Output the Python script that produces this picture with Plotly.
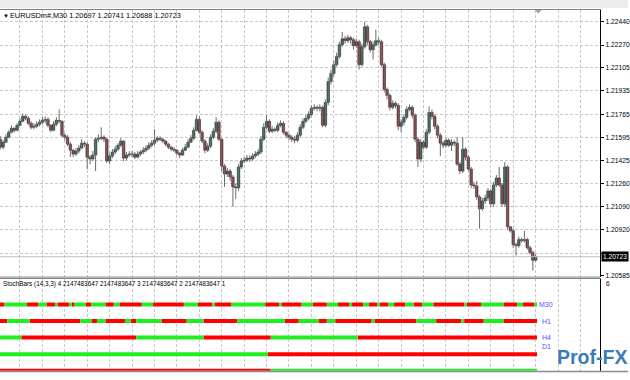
import plotly.graph_objects as go

# ---------------- data ----------------
first_open = 1.21582
closes = [
    1.21524, 1.21560, 1.21597, 1.21633, 1.21662, 1.21647, 1.21684, 1.21713, 1.21749, 1.21735,
    1.21698, 1.21669, 1.21677, 1.21691, 1.21706, 1.21720, 1.21727, 1.21684, 1.21647, 1.21691,
    1.21720, 1.21713, 1.21611, 1.21597, 1.21546, 1.21502, 1.21473, 1.21495, 1.21517, 1.21553,
    1.21546, 1.21451, 1.21437, 1.21466, 1.21582, 1.21589, 1.21597, 1.21582, 1.21422, 1.21459,
    1.21488, 1.21509, 1.21538, 1.21568, 1.21444, 1.21466, 1.21473, 1.21473, 1.21451, 1.21473,
    1.21488, 1.21502, 1.21517, 1.21538, 1.21553, 1.21575, 1.21589, 1.21582, 1.21568, 1.21546,
    1.21524, 1.21509, 1.21502, 1.21480, 1.21466, 1.21502, 1.21524, 1.21560, 1.21589, 1.21647,
    1.21727, 1.21633, 1.21568, 1.21502, 1.21531, 1.21597, 1.21640, 1.21706, 1.21582, 1.21386,
    1.21328, 1.21349, 1.21306, 1.21233, 1.21226, 1.21379, 1.21422, 1.21429, 1.21444, 1.21437,
    1.21459, 1.21473, 1.21488, 1.21582, 1.21669, 1.21713, 1.21640, 1.21655, 1.21647, 1.21684,
    1.21698, 1.21633, 1.21611, 1.21597, 1.21582, 1.21575, 1.21611, 1.21669, 1.21713, 1.21735,
    1.21764, 1.21808, 1.21815, 1.21808, 1.21815, 1.21684, 1.21851, 1.22004, 1.22062, 1.22127,
    1.22186, 1.22273, 1.22316, 1.22302, 1.22324, 1.22309, 1.22266, 1.22295, 1.22127, 1.22258,
    1.22404, 1.22295, 1.22236, 1.22273, 1.22302, 1.22295, 1.22127, 1.21946, 1.21902, 1.21815,
    1.21844, 1.21829, 1.21677, 1.21706, 1.21742, 1.21800, 1.21815, 1.21757, 1.21582, 1.21437,
    1.21560, 1.21524, 1.21633, 1.21778, 1.21749, 1.21677, 1.21611, 1.21553, 1.21538, 1.21575,
    1.21538, 1.21560, 1.21553, 1.21400, 1.21349, 1.21509, 1.21451, 1.21364, 1.21248, 1.21240,
    1.21160, 1.21073, 1.21131, 1.21153, 1.21204, 1.21110, 1.21248, 1.21299, 1.21248, 1.21110,
    1.21379, 1.20942, 1.20913, 1.20811, 1.20804, 1.20848, 1.20841, 1.20848, 1.20789, 1.20753,
    1.20697, 1.20723,
]
highs = [
    1.21604, 1.21575, 1.21618, 1.21647, 1.21684, 1.21669, 1.21698, 1.21735, 1.21771, 1.21764,
    1.21749, 1.21713, 1.21698, 1.21713, 1.21727, 1.21742, 1.21749, 1.21742, 1.21691, 1.21713,
    1.21742, 1.21800, 1.21720, 1.21626, 1.21611, 1.21560, 1.21509, 1.21517, 1.21538, 1.21582,
    1.21568, 1.21560, 1.21466, 1.21495, 1.21597, 1.21618, 1.21669, 1.21611, 1.21589, 1.21480,
    1.21509, 1.21531, 1.21553, 1.21589, 1.21575, 1.21488, 1.21495, 1.21495, 1.21488, 1.21495,
    1.21502, 1.21524, 1.21538, 1.21560, 1.21575, 1.21655, 1.21604, 1.21604, 1.21589, 1.21575,
    1.21553, 1.21531, 1.21524, 1.21509, 1.21488, 1.21517, 1.21546, 1.21582, 1.21611, 1.21669,
    1.21757, 1.21749, 1.21647, 1.21582, 1.21553, 1.21618, 1.21662, 1.21742, 1.21720, 1.21589,
    1.21400, 1.21371, 1.21364, 1.21320, 1.21255, 1.21400, 1.21444, 1.21451, 1.21466, 1.21466,
    1.21480, 1.21495, 1.21509, 1.21604, 1.21698, 1.21757, 1.21727, 1.21677, 1.21669, 1.21706,
    1.21720, 1.21713, 1.21640, 1.21626, 1.21611, 1.21604, 1.21633, 1.21691, 1.21735, 1.21757,
    1.21786, 1.21829, 1.21837, 1.21829, 1.21837, 1.21829, 1.21873, 1.22033, 1.22091, 1.22156,
    1.22215, 1.22295, 1.22367, 1.22338, 1.22345, 1.22338, 1.22324, 1.22316, 1.22309, 1.22280,
    1.22440, 1.22418, 1.22309, 1.22295, 1.22382, 1.22324, 1.22309, 1.22142, 1.21960, 1.21917,
    1.21866, 1.21858, 1.21844, 1.21727, 1.21764, 1.21822, 1.21837, 1.21829, 1.21771, 1.21597,
    1.21582, 1.21575, 1.21655, 1.21822, 1.21800, 1.21764, 1.21691, 1.21626, 1.21568, 1.21589,
    1.21589, 1.21582, 1.21575, 1.21597, 1.21415, 1.21597, 1.21524, 1.21466, 1.21379, 1.21270,
    1.21277, 1.21175, 1.21153, 1.21175, 1.21226, 1.21219, 1.21270, 1.21320, 1.21379, 1.21262,
    1.21415, 1.21393, 1.20942, 1.20928, 1.20826, 1.20870, 1.20862, 1.20913, 1.20862, 1.20804,
    1.20768, 1.20741,
]
lows = [
    1.21509, 1.21509, 1.21553, 1.21589, 1.21626, 1.21633, 1.21640, 1.21677, 1.21706, 1.21720,
    1.21684, 1.21655, 1.21655, 1.21662, 1.21677, 1.21691, 1.21698, 1.21669, 1.21633, 1.21640,
    1.21677, 1.21698, 1.21597, 1.21575, 1.21531, 1.21451, 1.21451, 1.21459, 1.21480, 1.21509,
    1.21524, 1.21364, 1.21400, 1.21422, 1.21349, 1.21560, 1.21575, 1.21560, 1.21408, 1.21400,
    1.21444, 1.21473, 1.21495, 1.21524, 1.21422, 1.21429, 1.21451, 1.21451, 1.21437, 1.21444,
    1.21459, 1.21473, 1.21488, 1.21502, 1.21524, 1.21538, 1.21560, 1.21568, 1.21553, 1.21531,
    1.21509, 1.21495, 1.21488, 1.21466, 1.21444, 1.21459, 1.21495, 1.21517, 1.21553, 1.21575,
    1.21640, 1.21618, 1.21553, 1.21480, 1.21488, 1.21517, 1.21582, 1.21626, 1.21568, 1.21349,
    1.21233, 1.21306, 1.21277, 1.21088, 1.21146, 1.21204, 1.21364, 1.21408, 1.21415, 1.21415,
    1.21422, 1.21444, 1.21459, 1.21473, 1.21568, 1.21655, 1.21626, 1.21626, 1.21633, 1.21633,
    1.21669, 1.21618, 1.21589, 1.21575, 1.21560, 1.21553, 1.21560, 1.21597, 1.21655, 1.21698,
    1.21720, 1.21749, 1.21793, 1.21786, 1.21786, 1.21669, 1.21669, 1.21829, 1.21982, 1.22040,
    1.22113, 1.22171, 1.22258, 1.22280, 1.22287, 1.22280, 1.22236, 1.22251, 1.22091, 1.22113,
    1.22244, 1.22273, 1.22215, 1.22164, 1.22258, 1.22273, 1.22113, 1.21924, 1.21873, 1.21793,
    1.21800, 1.21808, 1.21647, 1.21633, 1.21684, 1.21727, 1.21786, 1.21735, 1.21560, 1.21379,
    1.21415, 1.21509, 1.21509, 1.21618, 1.21727, 1.21655, 1.21589, 1.21459, 1.21517, 1.21524,
    1.21524, 1.21495, 1.21531, 1.21386, 1.21328, 1.21335, 1.21429, 1.21349, 1.21226, 1.21219,
    1.21139, 1.20928, 1.21059, 1.21110, 1.21131, 1.21088, 1.21088, 1.21233, 1.21233, 1.21088,
    1.21088, 1.20921, 1.20899, 1.20789, 1.20731, 1.20789, 1.20826, 1.20826, 1.20775, 1.20739,
    1.20622, 1.20688,
]

price_ticks = [1.22440, 1.22270, 1.22105, 1.21935, 1.21765, 1.21595, 1.21425,
               1.21260, 1.21090, 1.20920, 1.20750, 1.20585]
price_labels = ["1.22440", "1.22270", "1.22105", "1.21935", "1.21765", "1.21595", "1.21425",
                "1.21260", "1.21090", "1.20920", "", "1.20585"]
bid_price = 1.20723
bid_label = "1.20723"
chart_title = "EURUSDm#,M30 1.20697 1.20741 1.20688 1.20723"
ind_title = "StochBars (14,3,3) 4 2147483647 2147483647 3 2147483647 2 2147483647 1"
ind_axis_label = "6"
watermark = "Prof-FX"

# StochBars rows: timeframe name, level, colour-change edges (bar units), colours
tf_names = ["M30", "H1", "H4", "D1", ""]
tf_levels = [4, 3, 2, 1, 0]
m30_edges = [-0.5, 1.5, 9.5, 13.5, 16.5, 19.5, 20.5, 24.5, 25.5, 26.5, 30.5, 32.5, 37.5, 40.5,
             42.5, 50.5, 54.5, 65.5, 70.5, 75.5, 76.5, 82.5, 94.5, 99.5, 100.5, 107.5, 111.5,
             116.5, 120.5, 124.5, 125.5, 129.5, 131.5, 134.5, 135.5, 138.5, 140.5, 144.5, 147.5,
             150.5, 154.5, 165.5, 166.5, 171.5, 179.5, 184.5, 186.5, 190.5, 191.5]
m30_colors = ["R", "G"] * 24
h1_edges = [-0.5, 2.5, 10.5, 28.5, 32.5, 34.5, 37.5, 44.5, 46.5, 48.5, 57.5, 66.5, 72.5, 84.5,
            101.5, 106.5, 113.5, 116.5, 119.5, 132.5, 133.5, 148.5, 155.5, 164.5, 165.5,
            172.5, 179.5, 191.5]
h1_colors = ["R", "G"] * 13 + ["R"]
h4_edges = [-0.5, 7.5, 48.5, 72.5, 96.5, 127.5, 191.5]
h4_colors = ["G", "R", "G", "R", "G", "R"]
d1_edges = [-0.5, 95.5, 191.5]
d1_colors = ["G", "R"]
w1_edges = [-0.5, 96.5, 191.5]
w1_colors = ["R", "G"]

# ---------------- styles ----------------
W, H = 630, 380
BULL = "#27705f"
BEAR = "#a03232"
WICK = "#6a6a6a"
GRID = "#c8c8c8"
CMAP = {"R": "#ff0000", "G": "#1fee1f"}
LABEL_BLUE = "#4f4fff"
FONT = "Liberation Sans, Arial, DejaVu Sans"


def py(p):
    return 1 - p / H


def px(p):
    return p / W


opens = [first_open] + closes[:-1]
n = len(closes)
bars = list(range(n))

fig = go.Figure()

# wicks
wx, wy = [], []
for i in bars:
    wx += [i, i, None]
    wy += [highs[i], lows[i], None]
fig.add_trace(go.Scatter(x=wx, y=wy, mode="lines", line=dict(color=WICK, width=1),
                         hoverinfo="skip", showlegend=False, xaxis="x", yaxis="y"))

# bodies
for bull, col in ((True, BULL), (False, BEAR)):
    bx, bh, bb = [], [], []
    for i in bars:
        o, c = opens[i], closes[i]
        if (c >= o) == bull:
            bx.append(i)
            bh.append(max(abs(c - o), 0.00002))
            bb.append(min(o, c))
    fig.add_trace(go.Bar(x=bx, y=bh, base=bb, width=0.9, marker=dict(color=col,
                         line=dict(color="#1a1a1a", width=0.5)),
                         hoverinfo="skip", showlegend=False, xaxis="x", yaxis="y"))

# indicator rows
rows = [(m30_edges, m30_colors), (h1_edges, h1_colors), (h4_edges, h4_colors),
        (d1_edges, d1_colors), (w1_edges, w1_colors)]
for (edges, cols), lvl in zip(rows, tf_levels):
    for key in ("R", "G"):
        xs, ys = [], []
        for k, c in enumerate(cols):
            if c == key:
                xs += [edges[k], edges[k + 1], None]
                ys += [lvl, lvl, None]
        if xs:
            fig.add_trace(go.Scatter(x=xs, y=ys, mode="lines",
                                     line=dict(color=CMAP[key], width=4),
                                     hoverinfo="skip", showlegend=False,
                                     xaxis="x2", yaxis="y2"))

XDOM = [0, px(602)]
xrange = [-0.11, 214.0]
common_x = dict(domain=XDOM, range=xrange, tickmode="linear", tick0=7, dtick=8,
                showticklabels=False, ticks="", showgrid=True, gridcolor=GRID,
                griddash="3px,2px", gridwidth=1, zeroline=False, side="top",
                showline=True, linecolor="#808080", linewidth=1, fixedrange=True)

fig.update_layout(
    width=W, height=H, margin=dict(l=0, r=0, t=0, b=0),
    paper_bgcolor="white", plot_bgcolor="white", barmode="overlay",
    hovermode=False, showlegend=False,
    xaxis=dict(**common_x, anchor="y"),
    yaxis=dict(domain=[py(278), py(10)], range=[1.20578, 1.22527], side="right",
               tickmode="array", tickvals=price_ticks, ticktext=price_labels,
               tickfont=dict(family=FONT, size=6.7, color="black"),
               ticks="outside", ticklen=3, tickcolor="black", tickwidth=1,
               showgrid=True, gridcolor=GRID, griddash="3px,2px", gridwidth=1,
               zeroline=False, showline=True, linecolor="black", linewidth=1,
               anchor="x", fixedrange=True),
    xaxis2=dict(**common_x, anchor="y2", matches="x"),
    yaxis2=dict(domain=[py(372.8), py(280)], range=[0, 5.557], side="right",
                showticklabels=False, ticks="", showgrid=False, zeroline=False,
                showline=True, linecolor="black", linewidth=1, anchor="x2",
                fixedrange=True),
)

shapes = [
    dict(type="rect", xref="paper", yref="paper", x0=0, x1=1, y0=py(8), y1=1,
         fillcolor="#ececec", line=dict(width=0), layer="below"),
    dict(type="line", xref="paper", yref="paper", x0=0, x1=px(602), y0=py(278.5),
         y1=py(278.5), line=dict(color="#808080", width=1)),
    dict(type="line", xref="paper", yref="paper", x0=0, x1=1, y0=py(373.5),
         y1=py(373.5), line=dict(color="#8c8c8c", width=1.5)),
    dict(type="line", xref="x", yref="y", x0=xrange[0], x1=xrange[1], y0=bid_price,
         y1=bid_price, line=dict(color="#c0c0c0", width=1)),
    dict(type="path", xref="paper", yref="paper",
         path=f"M {px(536.5)} {py(10)} L {px(543.5)} {py(10)} L {px(540)} {py(13.5)} Z",
         fillcolor="#a0a0a0", line=dict(width=0)),
]
fig.update_layout(shapes=shapes)

ann = [
    dict(text="▼", x=px(1), y=py(16), xref="paper", yref="paper", xanchor="left",
         yanchor="middle", showarrow=False, font=dict(family=FONT, size=6, color="black")),
    dict(text=chart_title, x=px(8), y=py(16), xref="paper", yref="paper", xanchor="left",
         yanchor="middle", showarrow=False, font=dict(family=FONT, size=7.3, color="black")),
    dict(text=ind_title, x=px(1), y=py(286), xref="paper", yref="paper", xanchor="left",
         yanchor="middle", showarrow=False, font=dict(family=FONT, size=6.35, color="black")),
    dict(text=ind_axis_label, x=px(606), y=py(285), xref="paper", yref="paper",
         xanchor="left", yanchor="middle", showarrow=False,
         font=dict(family=FONT, size=6.6, color="black")),
    dict(text=bid_label, x=px(603), y=bid_price, xref="paper", yref="y", xanchor="left",
         yanchor="middle", showarrow=False, bgcolor="black", borderpad=1,
         font=dict(family=FONT, size=6.6, color="white")),
    dict(text=f"<b>{watermark}</b>", x=px(557), y=py(359), xref="paper", yref="paper",
         xanchor="left", yanchor="middle", showarrow=False,
         font=dict(family=FONT, size=19.5, color="#3b7bb8")),
]
label_pos = {"M30": (191.6, 4.0), "H1": (192.6, 3.0), "H4": (192.6, 2.0), "D1": (192.6, 1.45)}
for name in tf_names:
    if name:
        lx, ly = label_pos[name]
        ann.append(dict(text=name, x=lx, y=ly, xref="x2", yref="y2", xanchor="left",
                        yanchor="middle", showarrow=False,
                        font=dict(family=FONT, size=7, color=LABEL_BLUE)))
fig.update_layout(annotations=ann)

fig.write_html("out.html")
